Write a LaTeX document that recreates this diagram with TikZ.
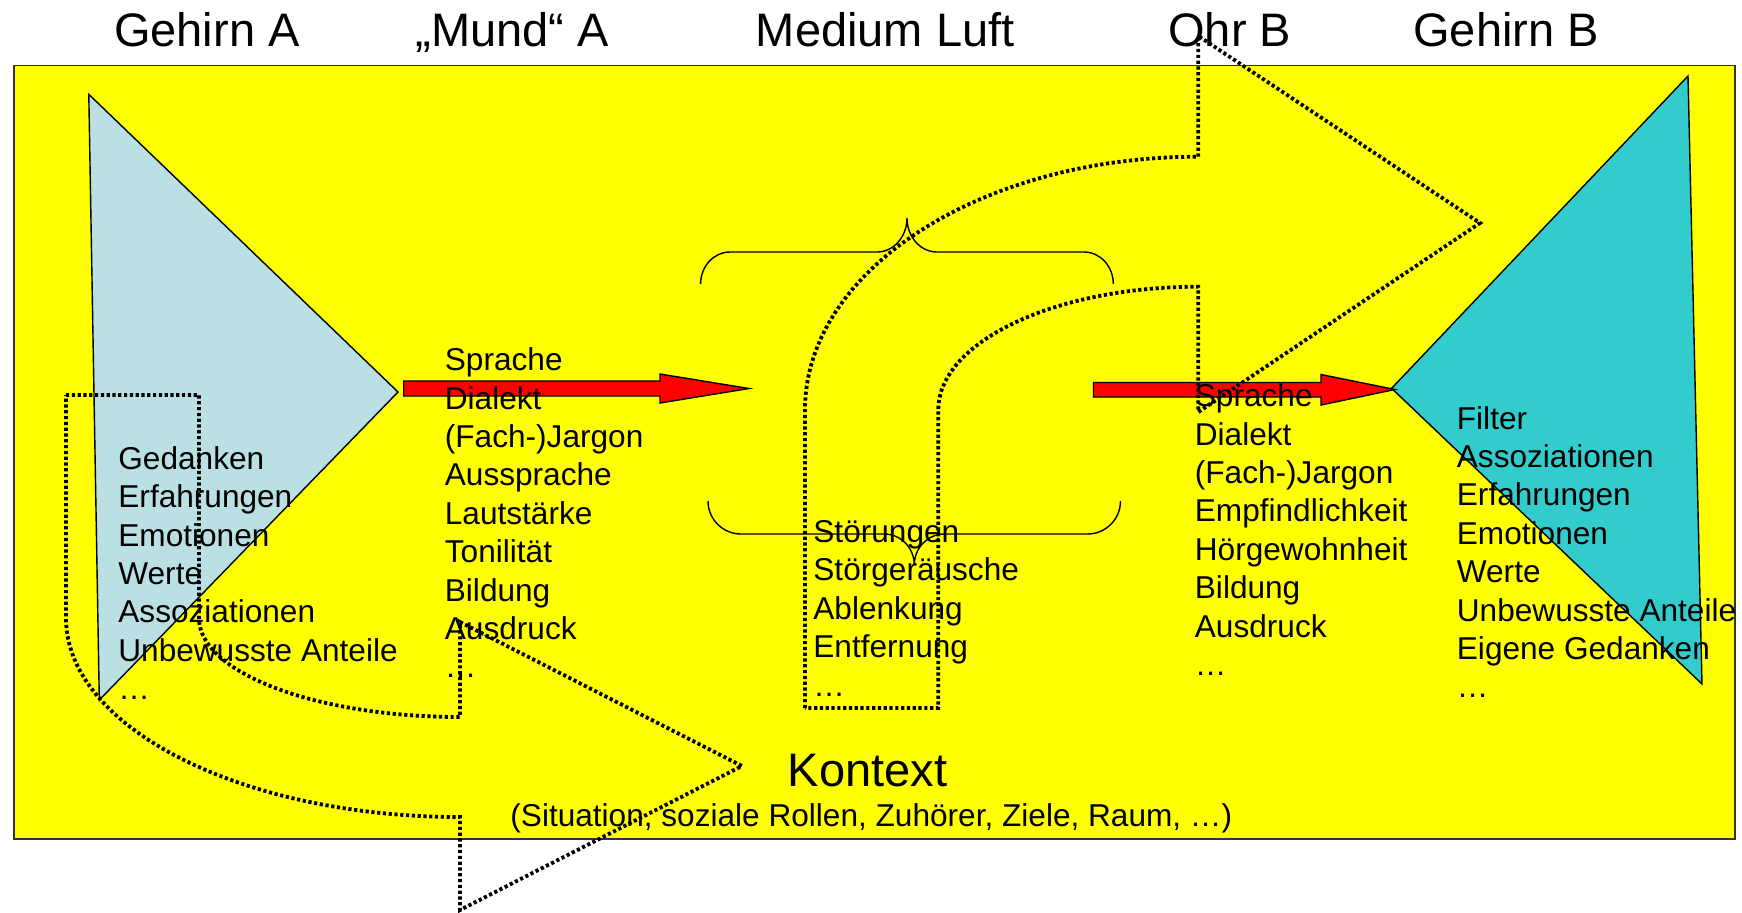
\documentclass[tikz,border=0pt]{standalone}
\usepackage{fontspec}
\setmainfont{Liberation Sans}
\definecolor{boxyellow}{RGB}{255,255,0}
\definecolor{brainA}{RGB}{186,224,227}
\definecolor{brainB}{RGB}{51,204,204}
\definecolor{arrowred}{RGB}{255,0,0}
\begin{document}
\begin{tikzpicture}[x=0.5pt,y=-0.5pt,
  titletext/.style={anchor=base west, inner sep=0pt, font=\fontsize{23.5pt}{28pt}\selectfont},
  listtext/.style={anchor=base west, inner sep=0pt, align=left, font=\fontsize{15.8pt}{19.2pt}\selectfont},
  dotline/.style={line width=1.9pt, dash pattern=on 1.6pt off 1.3pt},
  thinline/.style={line width=0.7pt},
  redarrow/.style={fill=arrowred, draw=black, thinline},
]
\useasboundingbox (0,0) rectangle (1742,912);
% background box
\filldraw[fill=boxyellow, draw=black!80, line width=0.6pt] (14,65.7) rectangle (1735,839);
% brains
\filldraw[fill=brainA, draw=black, thinline] (88.8,94.3) -- (398,392) -- (99.3,700) -- cycle;
\filldraw[fill=brainB, draw=black, thinline] (1688,76) -- (1391.6,388.3) -- (1702,684) -- cycle;
% red arrows
\filldraw[redarrow] (403.7,381) -- (660,381) -- (660,374) -- (749,388.5) -- (660,403) -- (660,396) -- (403.7,396) -- cycle;
\filldraw[redarrow] (1093.5,382.5) -- (1321,382.5) -- (1321,374.5) -- (1395,389.5) -- (1321,405) -- (1321,397) -- (1093.5,397) -- cycle;
% braces
\draw[thinline] (700.6,284) .. controls (700.6,266.3) and (713.8,252) .. (730,252) -- (877,252)
  .. controls (893.6,252) and (907,236.8) .. (907,218)
  .. controls (907,236.8) and (920.4,252) .. (937,252) -- (1084,252)
  .. controls (1100.2,252) and (1113.3,266.3) .. (1113.3,284);
\draw[thinline] (708,501) .. controls (708,519.2) and (722.8,534) .. (741,534) -- (884.3,534)
  .. controls (900.8,534) and (914.3,547.9) .. (914.3,565)
  .. controls (914.3,547.9) and (927.7,534) .. (944.3,534) -- (1087.5,534)
  .. controls (1105.7,534) and (1120.5,519.2) .. (1120.5,501);
% text (base anchor = baseline of the last line)
\node[titletext] (tGA) at (113.7,46.7) {Gehirn A};
\node[titletext] (tMA) at (415,46.7) {„Mund“ A};
\node[titletext] (tML) at (755.5,46.7) {Medium Luft};
\node[titletext] (tOB) at (1168,46.7) {Ohr B};
\node[titletext] (tGB) at (1413,46.7) {Gehirn B};
\node[listtext] (lA) at (118,699.7) {Gedanken\\Erfahrungen\\Emotionen\\Werte\\Assoziationen\\Unbewusste Anteile\\…};
\node[listtext] (lM) at (444.5,677.9) {Sprache\\Dialekt\\(Fach-)Jargon\\Aussprache\\Lautstärke\\Tonilität\\Bildung\\Ausdruck\\…};
\node[listtext] (lS) at (813,696.1) {Störungen\\Störgeräusche\\Ablenkung\\Entfernung\\…};
\node[listtext] (lO) at (1194.5,675.5) {Sprache\\Dialekt\\(Fach-)Jargon\\Empfindlichkeit\\Hörgewohnheit\\Bildung\\Ausdruck\\…};
\node[listtext] (lB) at (1456.5,697.8) {Filter\\Assoziationen\\Erfahrungen\\Emotionen\\Werte\\Unbewusste Anteile\\Eigene Gedanken\\…};
\node[titletext] (kon) at (787.5,786.7) {Kontext};
\node[listtext] (sit) at (510,826.7) {(Situation, soziale Rollen, Zuhörer, Ziele, Raum, …)};
% dotted bent arrows
\draw[dotline] (66,395) -- (199,395) -- (199,618) .. controls (199,672.7) and (315.9,717) .. (460,717)
  -- (460,622) -- (742,766) -- (460,910) -- (460,817)
  .. controls (242.4,817) and (66,727.9) .. (66,618) -- cycle;
\draw[dotline] (805,708) -- (805,410) .. controls (805,270.1) and (981.1,156.7) .. (1198.3,156.7)
  -- (1198.3,36) -- (1480,223) -- (1198.3,412) -- (1198.3,286.7)
  .. controls (1054.7,286.7) and (938.3,341.9) .. (938.3,410) -- (938.3,708) -- cycle;
\end{tikzpicture}
\end{document}
